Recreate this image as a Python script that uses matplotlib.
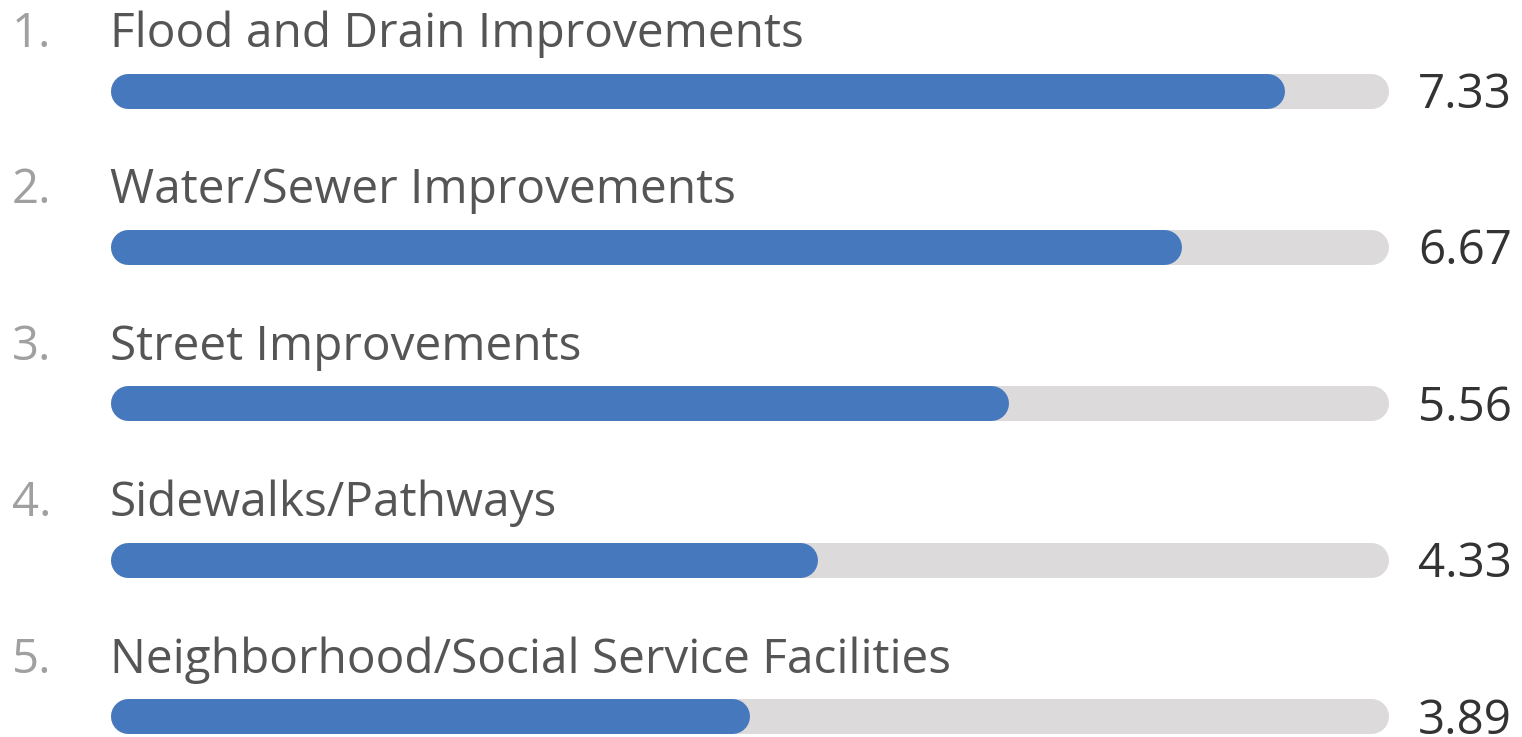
import matplotlib
matplotlib.use("Agg")
import matplotlib.pyplot as plt

# chart data
ranks = ["1.", "2.", "3.", "4.", "5."]
categories = [
    "Flood and Drain Improvements",
    "Water/Sewer Improvements",
    "Street Improvements",
    "Sidewalks/Pathways",
    "Neighborhood/Social Service Facilities",
]
scores = [7.33, 6.67, 5.56, 4.33, 3.89]
max_score = 8

BLUE = "#4578bc"
TRACK = "#dcdadb"

plt.rcParams["font.family"] = ["Open Sans", "DejaVu Sans"]

fig = plt.figure(figsize=(15.22, 7.37), dpi=100)
ax = fig.add_axes([0, 0, 1, 1])
ax.set_xlim(-0.8205, 8.974)
ax.set_ylim(4.134, -0.579)
ax.axis("off")

bar_lw = 35 * 72 / 100  # bar thickness in points

for i, (rank, name, val) in enumerate(zip(ranks, categories, scores)):
    # grey track then blue value bar, both with round caps
    ax.plot([0, max_score], [i, i], color=TRACK, lw=bar_lw, solid_capstyle="round")
    ax.plot([0, val], [i, i], color=BLUE, lw=bar_lw, solid_capstyle="round")
    ax.text(-0.743, i - 0.278, rank, fontsize=34, color="#a0a0a0", va="baseline", ha="left")
    ax.text(-0.1126, i - 0.278, name, fontsize=34.4, color="#555555", va="baseline", ha="left")
    ax.text(8.305, i + 0.112, f"{val:.2f}", fontsize=34.2, color="#333333", va="baseline", ha="left")

fig.savefig("out.png", dpi=100)
